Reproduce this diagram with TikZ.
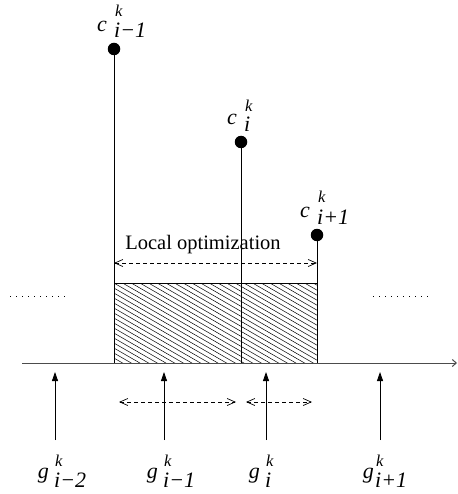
\documentclass[tikz,border=0pt]{standalone}
\usepackage{fontspec}
\setmainfont{Liberation Serif}
\usetikzlibrary{arrows.meta}
\begin{document}
\begin{tikzpicture}[x=1pt,y=-1pt,
  dot/.style={circle,fill=black,inner sep=0pt,minimum size=12.5pt},
  lbl/.style={inner sep=0pt,font=\fontsize{22}{26}\selectfont\itshape},
  sup/.style={inner sep=0pt,font=\fontsize{16.5}{19}\selectfont\itshape},
  stem/.style={line width=0.8pt},
  uparrow/.style={-{Triangle[length=9pt,width=6pt]},line width=0.8pt},
  dasharrow/.style={{Straight Barb[length=8pt,width=7pt]}-{Straight Barb[length=8pt,width=7pt]},dash pattern=on 4pt off 3pt,line width=0.7pt},
  dotline/.style={line width=0.9pt,dash pattern=on 1pt off 5pt},
  axis/.style={draw=black!70,line width=1pt,-{Straight Barb[length=4pt,width=7pt]}}
]
\useasboundingbox (0,0) rectangle (457,494);

% hatched box
\begin{scope}
\clip (114,283) rectangle (317,363);
\foreach \i in {-22,...,23} \draw[line width=0.5pt] (100,250+5*\i) -- ++(260,150);
\end{scope}
\draw[line width=0.8pt] (114,283) rectangle (317,363);

% axis
\coordinate (ax0) at (22,363);
\coordinate (ax1) at (457,363);
\draw[axis] (ax0) -- (ax1);

% dots and stems
\node[dot] (c1) at (114,49) {};
\node[dot] (c2) at (241,142) {};
\node[dot] (c3) at (317,235) {};
\coordinate (b1) at (114,363);
\coordinate (b2) at (241,363);
\coordinate (b3) at (317,363);
\draw[stem] (c1.center) -- (b1);
\draw[stem] (c2.center) -- (b2);
\draw[stem] (c3.center) -- (b3);

% c labels
\node[lbl,anchor=base east] (c1c) at (107,32) {c};
\node[sup,anchor=base west] (c1k) at (115,17) {k};
\node[lbl,anchor=base west] (c1s) at (114,38) {i−1};
\node[lbl,anchor=base east] (c2c) at (237,125) {c};
\node[sup,anchor=base west] (c2k) at (245,112) {k};
\node[lbl,anchor=base west] (c2s) at (244,132) {i};
\node[lbl,anchor=base east] (c3c) at (310,217) {c};
\node[sup,anchor=base west] (c3k) at (318,202) {k};
\node[lbl,anchor=base west] (c3s) at (317,224) {i+1};

% local optimization
\node[lbl,font=\fontsize{20.5}{24}\selectfont,anchor=base] (lo) at (203,249) {Local optimization};
\coordinate (lo0) at (114,263);
\coordinate (lo1) at (317,263);
\draw[dasharrow] (lo0) -- (lo1);

% dotted continuation marks
\coordinate (dl0) at (10,296);
\coordinate (dl1) at (68,296);
\coordinate (dr0) at (373,296);
\coordinate (dr1) at (431,296);
\draw[dotline] (dl0) -- (dl1);
\draw[dotline] (dr0) -- (dr1);

% up arrows
\foreach \n/\x in {1/55,2/164,3/266,4/380}{
  \coordinate (ga\n) at (\x,440);
  \coordinate (gt\n) at (\x,372);
  \draw[uparrow] (ga\n) -- (gt\n);
}

% lower dashed arrows
\coordinate (da0) at (119,402);
\coordinate (da1) at (236,402);
\coordinate (db0) at (246,402);
\coordinate (db1) at (312,402);
\draw[dasharrow] (da0) -- (da1);
\draw[dasharrow] (db0) -- (db1);

% g labels
\node[lbl,anchor=base east] (g1g) at (49,478) {g};
\node[sup,anchor=base west] (g1k) at (55,466) {k};
\node[lbl,anchor=base west] (g1s) at (54,487) {i−2};
\node[lbl,anchor=base east] (g2g) at (158,478) {g};
\node[sup,anchor=base west] (g2k) at (164,466) {k};
\node[lbl,anchor=base west] (g2s) at (163,487) {i−1};
\node[lbl,anchor=base east] (g3g) at (260,478) {g};
\node[sup,anchor=base west] (g3k) at (266,466) {k};
\node[lbl,anchor=base west] (g3s) at (265,487) {i};
\node[lbl,anchor=base east] (g4g) at (374,478) {g};
\node[sup,anchor=base west] (g4k) at (376,466) {k};
\node[lbl,anchor=base west] (g4s) at (375,487) {i+1};
\end{tikzpicture}
\end{document}
